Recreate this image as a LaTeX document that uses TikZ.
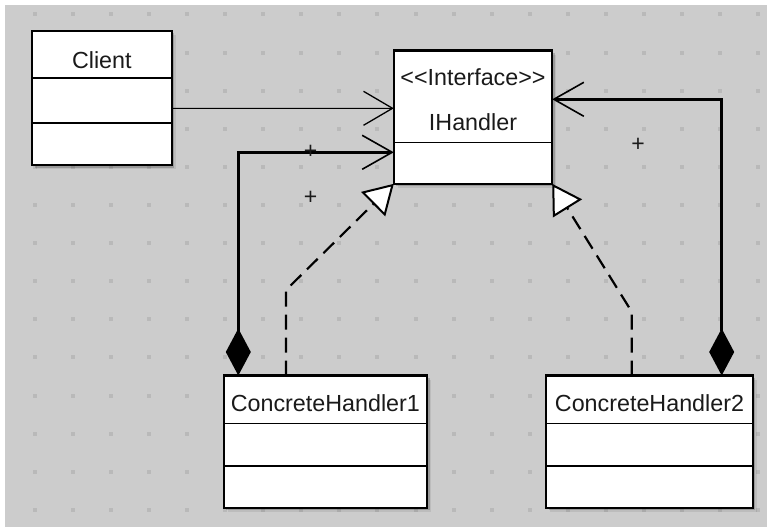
\documentclass[tikz,border=0pt]{standalone}
\usepackage{fontspec}
\setmainfont{Liberation Sans}[Ligatures=TeXOff]
\usetikzlibrary{arrows.meta,shadows}
\definecolor{canvasgray}{HTML}{CCCCCC}
\definecolor{dotgray}{HTML}{B9B9B9}
\definecolor{inkgray}{HTML}{1A1A1A}
\tikzset{
  classbox/.style={draw=black, line width=2.2pt, fill=white, inner sep=0pt, outer sep=0pt,
    anchor=north west,
    drop shadow={shadow xshift=2.5pt, shadow yshift=-2.5pt, fill=black, opacity=0.18},
    drop shadow={shadow xshift=4pt, shadow yshift=-4pt, fill=black, opacity=0.08}},
  divider/.style={draw=black, line width=1.6pt},
  thindivider/.style={draw=black, line width=1.1pt},
  lbl/.style={inner sep=0pt, anchor=base, text=inkgray, font=\fontsize{23.3}{28}\selectfont},
  plus/.style={inner sep=0pt, text=inkgray, font=\fontsize{23}{27}\selectfont},
  assoc/.style={draw=black, line width=1pt,
    -{Straight Barb[length=29pt, width=34pt, line width=1.3pt]}},
  comp/.style={draw=black, line width=2.5pt,
    {Diamond[length=47pt, width=25pt]}-{Straight Barb[length=30pt, width=34pt, line width=1.6pt]}},
  real/.style={draw=black, line width=2.2pt, dash pattern=on 15pt off 8pt,
    -{Triangle[length=29pt, width=34pt, line width=2pt, fill=white]}}
}
\begin{document}
\begin{tikzpicture}[x=1pt, y=-1pt]
  \useasboundingbox (0,0) rectangle (767,527);
  % canvas with its dot grid
  \fill[white] (0,0) rectangle (767,527);
  \fill[canvasgray] (5,5) rectangle (767,527);
  \foreach \i in {0,...,19} {
    \foreach \j in {0,...,13} {
      \fill[dotgray] ({34.5+38.1*\i-2}, {14.5+38.1*\j-2}) rectangle ++(4,4);
    }
  }

  % classes
  \node[classbox, minimum width=139.7pt, minimum height=134pt] (client) at (32,31) {};
  \draw[divider] (client.west |- 0,78) -- (client.east |- 0,78);
  \draw[divider] (client.west |- 0,122.7) -- (client.east |- 0,122.7);
  \node[lbl] (clientname) at (client.north |- 0,68) {Client};

  \node[classbox, minimum width=158.4pt, minimum height=133.3pt] (ih) at (393.8,50.5) {};
  \draw[thindivider] (ih.west |- 0,142.3) -- (ih.east |- 0,142.3);
  \node[lbl] (ihstereo) at (ih.north |- 0,85) {<<Interface>>};
  \node[lbl] (ihname) at (ih.north |- 0,130) {IHandler};

  \node[classbox, minimum width=203.3pt, minimum height=132.3pt] (ch1) at (223.7,375.5) {};
  \draw[divider] (ch1.west |- 0,423.3) -- (ch1.east |- 0,423.3);
  \draw[divider] (ch1.west |- 0,465.7) -- (ch1.east |- 0,465.7);
  \node[lbl] (ch1name) at (ch1.north |- 0,411.7) {ConcreteHandler1};

  \node[classbox, minimum width=206.6pt, minimum height=132.3pt] (ch2) at (546.2,375.5) {};
  \draw[divider] (ch2.west |- 0,423.3) -- (ch2.east |- 0,423.3);
  \draw[divider] (ch2.west |- 0,465.7) -- (ch2.east |- 0,465.7);
  \node[lbl] (ch2name) at (ch2.north |- 0,411.7) {ConcreteHandler2};

  % association Client -> IHandler
  \draw[assoc] ([yshift=-10.3pt]client.east) -- ([yshift=8.85pt]ih.west);

  % compositions back to the handler interface
  \draw[comp] ([xshift=14.6pt]ch1.north west) |- ([yshift=-35.15pt]ih.west);
  \draw[comp] ([xshift=175.5pt]ch2.north west) |- ([yshift=17.85pt]ih.east);

  % realizations of IHandler
  \draw[real] ([xshift=62.3pt]ch1.north west) -- ++(0,-85.5) -- (ih.south west);
  \draw[real] ([xshift=85.5pt]ch2.north west) -- ++(0,-63.8) -- (ih.south east);

  % role markers
  \node[plus] (plusa) at (310.7,151.5) {+};
  \node[plus] (plusb) at (310.7,197.7) {+};
  \node[plus] (plusc) at (638,145) {+};
\end{tikzpicture}
\end{document}
